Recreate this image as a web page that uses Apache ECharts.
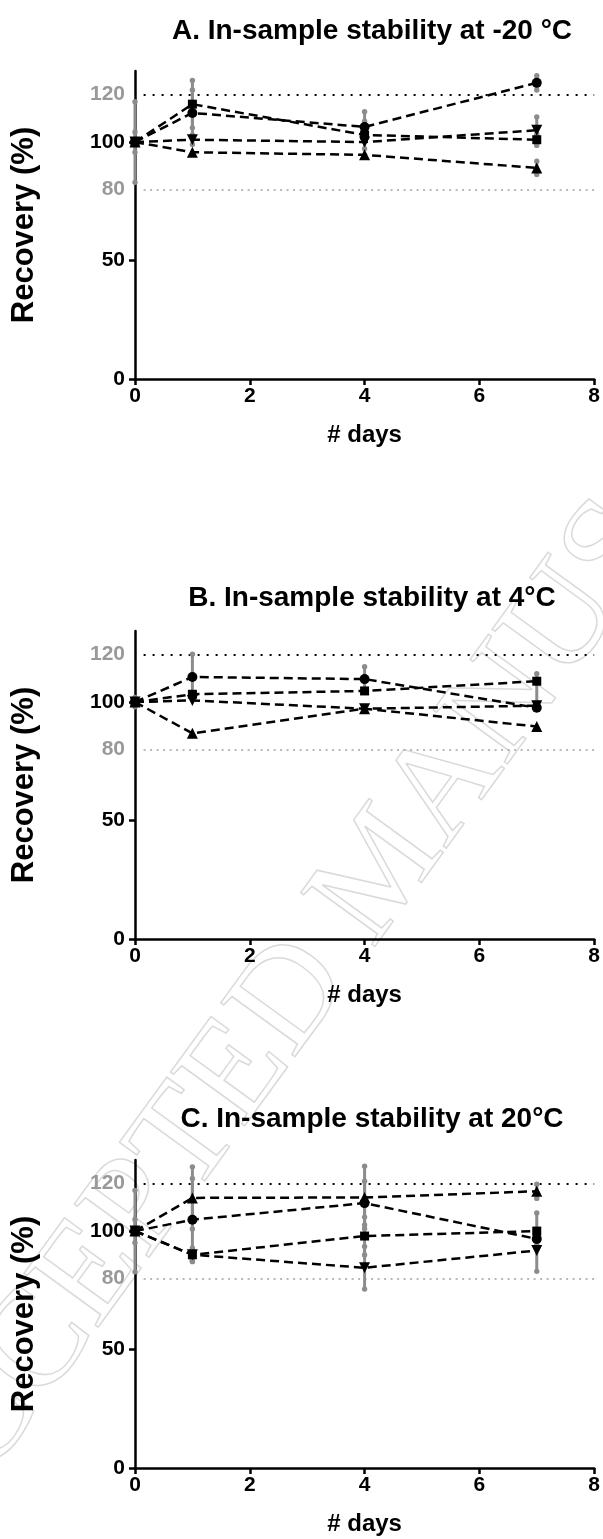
<!DOCTYPE html>
<html>
<head>
<meta charset="utf-8">
<title>In-sample stability</title>
<script src="https://cdn.jsdelivr.net/npm/echarts@6/dist/echarts.min.js"></script>
<style>
  html, body { margin: 0; padding: 0; background: #fff; }
  #chart { width: 603px; height: 1539px; }
</style>
</head>
<body>
<div id="chart"></div>
<script>
(function () {
  "use strict";

  // ── Data ──
  var DAYS = [0, 1, 4, 7];
  var X_TICKS = [0, 2, 4, 6, 8];
  var Y_LABELS = [0, 50, 80, 100, 120];
  var Y_TICKS = [0, 50, 100];
  var LIMIT_LINES = [120, 80];

  var TITLES = [
    "A. In-sample stability at -20 \u00b0C",
    "B. In-sample stability at 4\u00b0C",
    "C. In-sample stability at 20\u00b0C"
  ];

  // A. -20 °C
  var A_CIRCLE = [100, 112.3, 106.4, 125];
  var A_CIRCLE_SD = [17, 9.7, 6.4, 3];
  var A_SQUARE = [100, 116, 103, 101];
  var A_SQUARE_SD = [4.3, 10, 5.8, 2.4];
  var A_DOWN = [100, 101, 100, 105];
  var A_DOWN_SD = [0, 2, 0, 5.6];
  var A_UP = [100, 95.7, 94.6, 89.1];
  var A_UP_SD = [0, 0, 0, 2.8];

  // B. 4 °C
  var B_CIRCLE = [100, 110.6, 109.7, 97.6];
  var B_CIRCLE_SD = [2, 9.6, 5.2, 0];
  var B_SQUARE = [100, 103.3, 104.7, 108.8];
  var B_SQUARE_SD = [0, 0, 0, 3.2];
  var B_SQUARE_SD_LOW = [0, 0, 0, 9];
  var B_DOWN = [100, 100.7, 97.2, 98.5];
  var B_DOWN_SD = [0, 0, 0, 0];
  var B_UP = [100, 86.8, 97.2, 89.7];
  var B_UP_SD = [0, 0, 0, 0];

  // C. 20 °C
  var C_CIRCLE = [100, 104.8, 111.8, 96.7];
  var C_CIRCLE_SD = [17.2, 17.4, 9.2, 2];
  var C_SQUARE = [100, 90, 97.9, 100];
  var C_SQUARE_SD = [4.9, 2.9, 8, 7.6];
  var C_DOWN = [100, 90, 84.5, 91.8];
  var C_DOWN_SD = [0, 2, 9, 8.8];
  var C_UP = [100, 114, 114.2, 116.8];
  var C_UP_SD = [0, 13.1, 13.2, 3];

  var FONT = "'Liberation Sans', Arial, Helvetica, sans-serif";
  var GRAY = "#8c8c8c";
  var LABEL_GRAY = "#999999";

  var MARKERS = [
    { symbol: "circle", size: 10, rotate: 0 },
    { symbol: "rect", size: 9, rotate: 0 },
    { symbol: "triangle", size: 11, rotate: 180 },
    { symbol: "triangle", size: 11, rotate: 0 }
  ];

  // panel layout: plot top, title top
  var PANELS = [
    { top: 71, titleTop: 12, sets: [
      [A_CIRCLE, A_CIRCLE_SD], [A_SQUARE, A_SQUARE_SD], [A_DOWN, A_DOWN_SD], [A_UP, A_UP_SD]
    ] },
    { top: 631, titleTop: 579, sets: [
      [B_CIRCLE, B_CIRCLE_SD], [B_SQUARE, B_SQUARE_SD, B_SQUARE_SD_LOW], [B_DOWN, B_DOWN_SD], [B_UP, B_UP_SD]
    ] },
    { top: 1160, titleTop: 1100, sets: [
      [C_CIRCLE, C_CIRCLE_SD], [C_SQUARE, C_SQUARE_SD], [C_DOWN, C_DOWN_SD], [C_UP, C_UP_SD]
    ] }
  ];

  var PLOT_LEFT = 135;
  var PLOT_WIDTH = 460;
  var PLOT_HEIGHT = 308;

  function renderErr(params, api) {
    var x = api.value(0);
    var lo = api.value(1);
    var hi = api.value(2);
    if (hi - lo < 0.01) return null;
    var p1 = api.coord([x, hi]);
    var p2 = api.coord([x, lo]);
    return {
      type: "group",
      children: [
        { type: "line", shape: { x1: p1[0], y1: p1[1], x2: p2[0], y2: p2[1] },
          style: { stroke: GRAY, lineWidth: 3 } },
        { type: "circle", shape: { cx: p1[0], cy: p1[1], r: 2.7 }, style: { fill: GRAY } },
        { type: "circle", shape: { cx: p2[0], cy: p2[1], r: 2.7 }, style: { fill: GRAY } }
      ]
    };
  }

  var grids = [], xAxes = [], yAxes = [], titles = [], series = [];

  for (var p = 0; p < PANELS.length; p++) {
    var panel = PANELS[p];

    grids.push({ left: PLOT_LEFT, top: panel.top, width: PLOT_WIDTH, height: PLOT_HEIGHT });

    titles.push({
      text: TITLES[p],
      left: 367,
      top: panel.titleTop,
      textAlign: "center",
      textStyle: { fontFamily: FONT, fontWeight: "bold", fontSize: 28, color: "#000" }
    });

    xAxes.push({
      gridIndex: p,
      type: "value",
      min: 0,
      max: 8,
      interval: 2,
      name: "# days",
      nameLocation: "middle",
      nameGap: 44,
      nameTextStyle: { fontFamily: FONT, fontWeight: "bold", fontSize: 24, color: "#000" },
      axisLine: { lineStyle: { color: "#000", width: 2.5 } },
      axisTick: { show: true, length: 6, lineStyle: { color: "#000", width: 2.5 },
        customValues: X_TICKS },
      axisLabel: { margin: 7, fontFamily: FONT, fontWeight: "bold", fontSize: 21, color: "#000",
        customValues: X_TICKS },
      splitLine: { show: false }
    });

    yAxes.push({
      gridIndex: p,
      type: "value",
      min: 0,
      max: 130,
      interval: 10,
      name: "Recovery (%)",
      nameLocation: "middle",
      nameRotate: 90,
      nameGap: 95,
      nameTextStyle: { fontFamily: FONT, fontWeight: "bold", fontSize: 31, color: "#000" },
      axisLine: { lineStyle: { color: "#000", width: 2.5 } },
      axisTick: { show: true, length: 6, lineStyle: { color: "#000", width: 2.5 },
        customValues: Y_TICKS },
      axisLabel: {
        margin: 10,
        fontFamily: FONT,
        fontWeight: "bold",
        fontSize: 21,
        customValues: Y_LABELS,
        color: function (v) {
          var n = Number(v);
          return (n === 80 || n === 120) ? LABEL_GRAY : "#000";
        }
      },
      splitLine: { show: false }
    });

    // error bars first, so markers sit on top
    for (var s = 0; s < panel.sets.length; s++) {
      var vals = panel.sets[s][0];
      var up = panel.sets[s][1];
      var down = panel.sets[s][2] || up;
      var errData = [];
      for (var i = 0; i < DAYS.length; i++) {
        errData.push([DAYS[i], vals[i] - down[i], vals[i] + up[i]]);
      }
      series.push({
        type: "custom",
        xAxisIndex: p,
        yAxisIndex: p,
        renderItem: renderErr,
        encode: { x: 0, y: [1, 2] },
        data: errData,
        z: 1,
        silent: true
      });
    }

    for (var k = 0; k < panel.sets.length; k++) {
      var v = panel.sets[k][0];
      var pts = [];
      for (var j = 0; j < DAYS.length; j++) pts.push([DAYS[j], v[j]]);
      var m = MARKERS[k];
      var ser = {
        type: "line",
        xAxisIndex: p,
        yAxisIndex: p,
        data: pts,
        symbol: m.symbol,
        symbolSize: m.size,
        symbolRotate: m.rotate,
        showAllSymbol: true,
        lineStyle: { color: "#000", width: 2.5, type: [9, 5] },
        itemStyle: { color: "#000" },
        z: 3,
        silent: true
      };
      if (k === 0) {
        ser.markLine = {
          silent: true,
          symbol: "none",
          label: { show: false },
          z: 0,
          data: [
            [{ coord: [0.15, LIMIT_LINES[0]], lineStyle: { color: "#000", type: [2, 7], width: 2 } },
             { coord: [8, LIMIT_LINES[0]] }],
            [{ coord: [0.15, LIMIT_LINES[1]], lineStyle: { color: "#a0a0a0", type: [2, 4.5], width: 1.6 } },
             { coord: [8, LIMIT_LINES[1]] }]
          ]
        };
      }
      series.push(ser);
    }
  }

  var chart = echarts.init(document.getElementById("chart"), null, { renderer: "canvas" });

  chart.setOption({
    backgroundColor: "#fff",
    animation: false,
    title: titles,
    grid: grids,
    xAxis: xAxes,
    yAxis: yAxes,
    series: series,
    graphic: [{
      type: "text",
      x: 385,
      y: 870,
      rotation: 54 * Math.PI / 180,
      z: -10,
      silent: true,
      style: {
        text: "ACCEPTED MANUSCRIPT",
        font: "140px 'Liberation Serif', 'Times New Roman', serif",
        fill: "rgba(0,0,0,0)",
        stroke: "#dadada",
        lineWidth: 1.5,
        align: "center",
        verticalAlign: "middle"
      }
    }]
  });
})();
</script>
</body>
</html>
